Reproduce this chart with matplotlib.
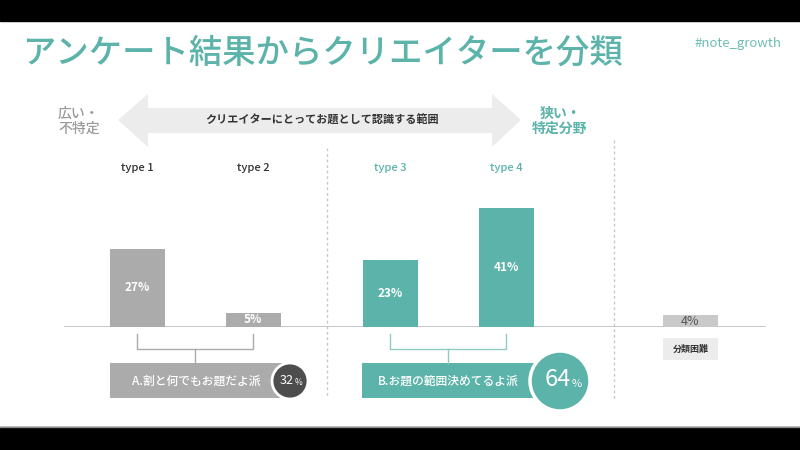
import matplotlib
matplotlib.use("Agg")
import matplotlib.pyplot as plt
from matplotlib.patches import Polygon, Rectangle, Circle

plt.rcParams['font.family'] = ['Noto Sans CJK JP', 'DejaVu Sans']

# data
types = ["type 1", "type 2", "type 3", "type 4"]
shares = [27, 5, 23, 41]
other_label = "分類困難"
other_share = 4
group_names = ["A.割と何でもお題だよ派", "B.お題の範囲決めてるよ派"]
group_shares = [32, 64]

title = "アンケート結果からクリエイターを分類"
tag = "#note_growth"
arrow_text = "クリエイターにとってお題として認識する範囲"
wide_text = "広い・\n不特定"
narrow_text = "狭い・\n特定分野"

teal = "#5bb3a9"
gray = "#ababab"
light = "#ececec"

# bar x positions (px), bar width
xs = [137, 253, 390, 506]
x_other = 690
bw = 55

fig = plt.figure(figsize=(8, 4.5), dpi=100)

# bar axes: baseline at y=327px, 2.9px per percent
base = 327
ax = fig.add_axes([0, (450 - base) / 450, 1, 145 / 450])
ax.set_xlim(0, 800)
ax.set_ylim(0, 50)
ax.axis("off")
ax.plot([65, 765], [0, 0], color="#bdbdbd", lw=1.2, zorder=1)
colors = [gray, gray, teal, teal]
ax.bar(xs, shares, width=bw, color=colors, zorder=2, clip_on=False)
for x, v in zip(xs, shares):
    ax.text(x, v / 2, f"{v}%", color="white", ha="center", va="center",
            fontsize=8.5, fontweight="bold", zorder=3)
ax.bar([x_other], [other_share], width=bw, color="#c9c9c9", zorder=2)
ax.text(x_other, other_share / 2, f"{other_share}%", color="#555555",
        ha="center", va="center", fontsize=9, zorder=3)

# overlay in pixel coordinates
ov = fig.add_axes([0, 0, 1, 1], zorder=5)
ov.set_xlim(0, 800)
ov.set_ylim(450, 0)
ov.axis("off")
ov.patch.set_alpha(0)

# black letterbox bands
ov.add_patch(Rectangle((0, 0), 800, 21, color="black"))
ov.add_patch(Rectangle((0, 427), 800, 23, color="black"))
ov.plot([0, 800], [426.5, 426.5], color="#888888", lw=1)

ov.text(22, 53, title, color=teal, fontsize=24, fontweight="medium",
        va="center", ha="left")
ov.text(738, 44, tag, color="#6dbdb4", fontsize=9.5, va="center", ha="center")

# double arrow
arrow = [(118, 120), (148, 94), (148, 108), (492, 108), (492, 94), (521, 120),
         (492, 147), (492, 133), (148, 133), (148, 147)]
ov.add_patch(Polygon(arrow, closed=True, color=light, lw=0))
ov.text(322, 120, arrow_text, color="#333333", fontsize=8, fontweight="bold",
        ha="center", va="center")
ov.text(58, 121, wide_text, color="#9a9a9a", fontsize=10, fontweight="medium",
        ha="left", va="center", linespacing=1.1)
ov.text(560, 121, narrow_text, color=teal, fontsize=10, fontweight="bold",
        ha="center", va="center", linespacing=1.1)

# type labels
for x, t, c in zip(xs, types, ["#333333", "#333333", teal, teal]):
    ov.text(x, 168, t, color=c, fontsize=8, fontweight="medium",
            ha="center", va="center")

# dashed separators
ov.plot([327, 327], [148, 398], color="#c8c8c8", lw=1, ls=(0, (2, 2)))
ov.plot([614, 614], [140, 400], color="#c8c8c8", lw=1, ls=(0, (2, 2)))

# brackets
for (x1, x2), c in zip([(xs[0], xs[1]), (xs[2], xs[3])], [gray, "#8fcac3"]):
    mid = (x1 + x2) / 2
    ov.plot([x1, x1, x2, x2], [334, 349, 349, 334], color=c, lw=1)
    ov.plot([mid, mid], [349, 363], color=c, lw=1)

# group boxes
ov.add_patch(Rectangle((110, 363), 180, 35, color=gray, lw=0))
ov.text(196, 381, group_names[0], color="white", fontsize=8.5,
        fontweight="medium", ha="center", va="center")
ov.add_patch(Circle((290, 381), 18, facecolor="#4d4d4d", edgecolor="white", lw=2))
ov.text(294, 381, str(group_shares[0]), color="white", fontsize=9,
        ha="right", va="center")
ov.text(294.5, 382.5, "%", color="white", fontsize=6, ha="left", va="center")

ov.add_patch(Rectangle((362, 363), 190, 35, color=teal, lw=0))
ov.text(448, 381, group_names[1], color="white", fontsize=8.5,
        fontweight="medium", ha="center", va="center")
ov.add_patch(Circle((560, 381), 30, facecolor=teal, edgecolor="white", lw=2.5))
ov.text(571, 380, str(group_shares[1]), color="white", fontsize=17,
        ha="right", va="center")
ov.text(571.5, 384, "%", color="white", fontsize=8, ha="left", va="center")

# other label
ov.add_patch(Rectangle((663, 338), 55, 22, color=light, lw=0))
ov.text(690.5, 349, other_label, color="#333333", fontsize=6.5,
        fontweight="bold", ha="center", va="center")

fig.savefig("out.png", dpi=100)
